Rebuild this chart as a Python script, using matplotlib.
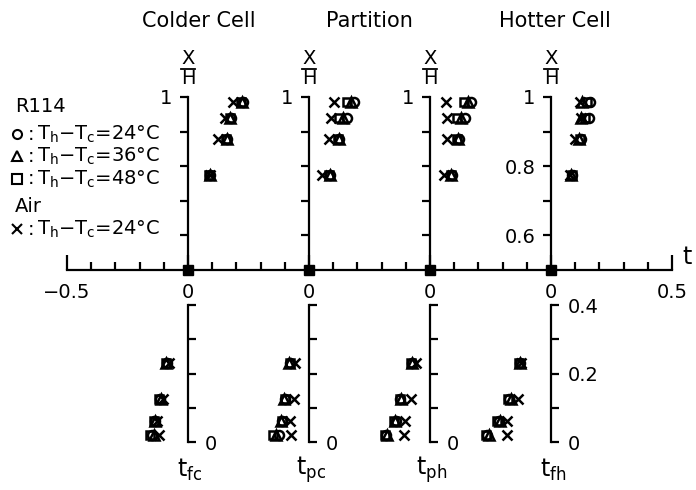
import matplotlib.pyplot as plt
from matplotlib.lines import Line2D

# ------------------------------------------------------------
# Datos (t frente a X/H)
# ------------------------------------------------------------

XH_UPPER = [0.985, 0.94, 0.88, 0.775]
XH_LOWER = [0.23, 0.125, 0.06, 0.02]

# parte superior (X/H > 0.5)
UP_FC = {"24": [0.227, 0.178, 0.163, 0.092], "36": [0.222, 0.172, 0.160, 0.090],
         "48": [0.220, 0.175, 0.158, 0.088], "air": [0.186, 0.152, 0.122, 0.090]}
UP_PC = {"24": [0.186, 0.157, 0.126, 0.088], "36": [0.172, 0.140, 0.124, 0.085],
         "48": [0.157, 0.124, 0.120, 0.082], "air": [0.103, 0.091, 0.083, 0.054]}
UP_PH = {"24": [0.170, 0.145, 0.118, 0.092], "36": [0.155, 0.128, 0.114, 0.088],
         "48": [0.140, 0.112, 0.112, 0.085], "air": [0.066, 0.070, 0.070, 0.058]}
UP_FH = {"24": [0.160, 0.158, 0.124, 0.088], "36": [0.130, 0.125, 0.115, 0.084],
         "48": [0.150, 0.140, 0.120, 0.086], "air": [0.120, 0.124, 0.100, 0.080]}

# parte inferior (X/H < 0.4)
LO_FC = {"24": [-0.088, -0.115, -0.138, -0.148], "36": [-0.090, -0.112, -0.135, -0.140],
         "48": [-0.092, -0.118, -0.140, -0.158], "air": [-0.080, -0.105, -0.128, -0.118]}
LO_PC = {"24": [-0.080, -0.100, -0.110, -0.124], "36": [-0.082, -0.104, -0.116, -0.135],
         "48": [-0.078, -0.098, -0.112, -0.149], "air": [-0.058, -0.062, -0.078, -0.074]}
LO_PH = {"24": [-0.076, -0.124, -0.142, -0.180], "36": [-0.074, -0.120, -0.146, -0.176],
         "48": [-0.078, -0.126, -0.148, -0.186], "air": [-0.058, -0.079, -0.103, -0.107]}
LO_FH = {"24": [-0.130, -0.172, -0.215, -0.264], "36": [-0.128, -0.165, -0.212, -0.256],
         "48": [-0.132, -0.178, -0.222, -0.270], "air": [-0.125, -0.135, -0.182, -0.182]}

TITLES = ["Colder Cell", "Partition", "Hotter Cell"]
BOTTOM_LABELS = ["t$_{fc}$", "t$_{pc}$", "t$_{ph}$", "t$_{fh}$"]
MAIN_TICKS = [-0.5, 0.0, 0.5, 1.0, 1.5, 2.0]
MAIN_TICKLABELS = ["\u22120.5", "0", "0", "0", "0", "0.5"]
PANEL_OFFSETS = [0.0, 0.5, 1.0, 1.5]

LEGEND_ROWS = [("o", "T$_h$\u2212T$_c$=24\u00b0C"),
               ("^", "T$_h$\u2212T$_c$=36\u00b0C"),
               ("s", "T$_h$\u2212T$_c$=48\u00b0C"),
               ("x", "T$_h$\u2212T$_c$=24\u00b0C")]

# ------------------------------------------------------------
# Geometria (pixeles de la figura)
# ------------------------------------------------------------

W, H = 696, 490
T0_PX = 67.0       # t = -0.5
PX_PER_T = 242.0
Y_TOP, Y_AXIS = 97.0, 270.0       # X/H = 1.0 y 0.5
Y_LO_TOP, Y_LO_BOT = 305.0, 442.0  # X/H = 0.4 y 0

LW = 1.6
FS = 14

SERIES_STYLE = [("air", "x", 7.5), ("24", "o", 6.5), ("36", "^", 6.5), ("48", "s", 6.0)]


def fx(px):
    return px / W


def fy(py):
    return 1.0 - py / H


def tpx(t):
    return T0_PX + (t + 0.5) * PX_PER_T


def plot_series(ax, data, xh):
    for key, marker, ms in SERIES_STYLE:
        ax.plot(data[key], xh, linestyle="none", marker=marker, ms=ms,
                mfc="none", mec="black", mew=1.8, clip_on=False)


plt.rcParams["font.family"] = ["DejaVu Sans"]
plt.rcParams["mathtext.default"] = "regular"

fig = plt.figure(figsize=(W / 100, H / 100), dpi=100)

# eje horizontal principal
ax = fig.add_axes([fx(T0_PX), fy(Y_AXIS), 2.5 * PX_PER_T / W, (Y_AXIS - Y_TOP) / H])
ax.set_xlim(-0.5, 2.0)
ax.set_ylim(0.5, 1.0)
for s in ["top", "left", "right"]:
    ax.spines[s].set_visible(False)
ax.spines["bottom"].set_linewidth(LW)
ax.set_yticks([])
ax.set_xticks(MAIN_TICKS)
ax.set_xticklabels(MAIN_TICKLABELS, fontsize=FS)
ax.set_xticks([-0.5 + 0.1 * k for k in range(26)], minor=True)
ax.tick_params(axis="x", which="major", direction="in", length=11, width=LW, pad=9)
ax.tick_params(axis="x", which="minor", direction="in", length=5.5, width=LW)
ax.plot(PANEL_OFFSETS, [0.5] * 4, linestyle="none", marker="s", ms=7,
        color="black", clip_on=False)
fig.text(fx(687), fy(257), "t", fontsize=17, ha="center", va="center")

upper = [UP_FC, UP_PC, UP_PH, UP_FH]
lower = [LO_FC, LO_PC, LO_PH, LO_FH]

for i, off in enumerate(PANEL_OFFSETS):
    z = tpx(off)
    last = i == 3

    # panel superior
    axu = fig.add_axes([fx(z), fy(Y_AXIS), 0.5 * PX_PER_T / W, (Y_AXIS - Y_TOP) / H])
    axu.patch.set_visible(False)
    axu.set_xlim(0, 0.5)
    axu.set_ylim(0.5, 1.0)
    for s in ["top", "right", "bottom"]:
        axu.spines[s].set_visible(False)
    axu.spines["left"].set_linewidth(LW)
    axu.set_xticks([])
    axu.set_yticks([0.6, 0.7, 0.8, 0.9, 1.0])
    axu.set_yticklabels(["0.6" if last else "", "", "0.8" if last else "", "", "1"],
                        fontsize=FS)
    axu.tick_params(axis="y", direction="out", length=6, width=LW, pad=5)
    plot_series(axu, upper[i], XH_UPPER)

    # panel inferior
    axl = fig.add_axes([fx(z - 0.5 * PX_PER_T), fy(Y_LO_BOT), 0.5 * PX_PER_T / W,
                        (Y_LO_BOT - Y_LO_TOP) / H])
    axl.patch.set_visible(False)
    axl.set_xlim(-0.5, 0)
    axl.set_ylim(0, 0.4)
    for s in ["top", "left", "bottom"]:
        axl.spines[s].set_visible(False)
    axl.spines["right"].set_linewidth(LW)
    axl.set_xticks([])
    axl.yaxis.tick_right()
    axl.set_yticks([0.0, 0.1, 0.2, 0.3, 0.4])
    axl.set_yticklabels(["0", "", "0.2" if last else "", "", "0.4" if last else ""],
                        fontsize=FS)
    axl.tick_params(axis="y", direction="out", length=6, width=LW, pad=6)
    plot_series(axl, lower[i], XH_LOWER)

    # X/H encima del eje
    fig.text(fx(z), fy(59), "X", fontsize=FS, ha="center", va="center")
    fig.add_artist(Line2D([fx(z - 7), fx(z + 7)], [fy(69), fy(69)],
                          color="black", lw=1.3, transform=fig.transFigure))
    fig.text(fx(z), fy(78), "H", fontsize=FS, ha="center", va="center")

    # etiqueta inferior
    fig.text(fx(z + 2), fy(470), BOTTOM_LABELS[i], fontsize=17, ha="center", va="center")

# titulos
fig.text(fx(199), fy(21), TITLES[0], fontsize=15, ha="center", va="center")
fig.text(fx(369), fy(21), TITLES[1], fontsize=15, ha="center", va="center")
fig.text(fx(555), fy(21), TITLES[2], fontsize=15, ha="center", va="center")

# leyenda a mano
fig.text(fx(15), fy(106), "R114", fontsize=FS, ha="left", va="center")
fig.text(fx(15), fy(207), "Air", fontsize=FS, ha="left", va="center")
for (marker, label), py in zip(LEGEND_ROWS, [134, 156, 179, 229]):
    fig.add_artist(Line2D([fx(17)], [fy(py)], marker=marker, ms=6.5, mfc="none",
                          mec="black", mew=1.5, linestyle="none",
                          transform=fig.transFigure))
    fig.text(fx(31), fy(py), ":", fontsize=FS, ha="center", va="center")
    fig.text(fx(37), fy(py), label, fontsize=FS, ha="left", va="center")

fig.savefig("out.png", dpi=100)
